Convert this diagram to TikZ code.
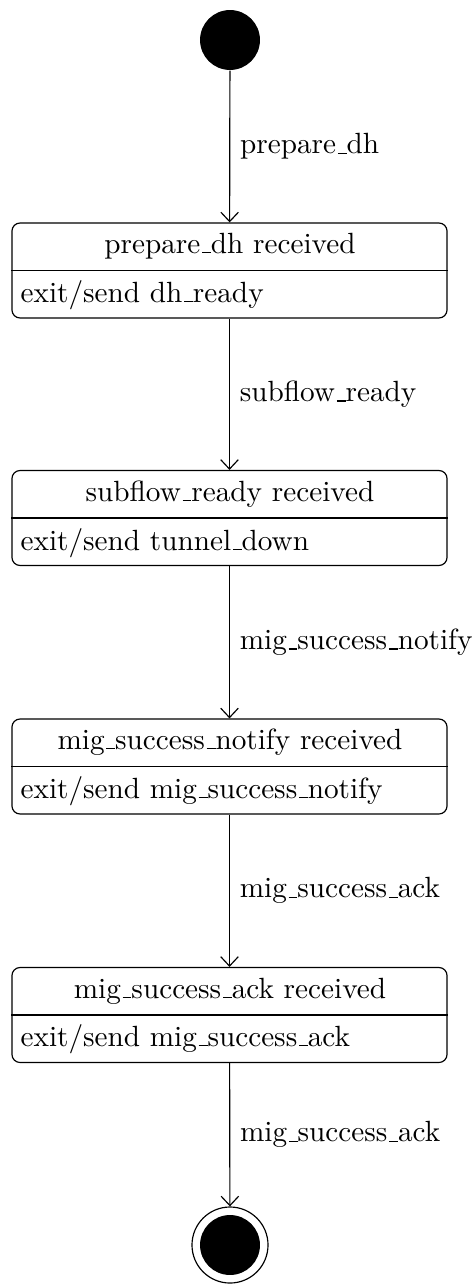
\documentclass[tikz,border=0pt]{standalone}
\usetikzlibrary{arrows.meta}
\newcommand\us{\leavevmode\kern.06em\vbox{\hrule width.3em}}
\begin{document}
\begin{tikzpicture}[x=0.342pt,y=-0.342pt,
  line width=0.4pt,
  statebox/.style={draw, rounded corners=2.8pt, minimum width=148.8pt, minimum height=32.5pt, inner sep=0pt},
  titletext/.style={anchor=center, inner sep=0pt},
  exittext/.style={anchor=west, inner sep=0pt},
  trans/.style={-{Straight Barb[length=3.2pt,width=6pt]}},
  lbl/.style={right, inner sep=3.33pt}]
\useasboundingbox (0,0) rectangle (474,1284);
\node[circle, fill=black, minimum size=20.5pt, inner sep=0pt] (init) at (230,40) {};
% state boxes
\node[statebox] (s1) at (229.5,270.5) {};
\node[statebox] (s2) at (229.5,518) {};
\node[statebox] (s3) at (229.5,766.5) {};
\node[statebox] (s4) at (229.5,1015) {};
\foreach \n in {s1,s2,s3,s4}{\draw (\n.west) -- (\n.east);}
\node[titletext] (t1) at (230,246) {prepare\us dh received};
\node[exittext] (e1) at (20,295) {exit/send dh\us ready};
\node[titletext] (t2) at (230,494) {subflow\us ready received};
\node[exittext] (e2) at (20,543) {exit/send tunnel\us down};
\node[titletext] (t3) at (230,742) {mig\us success\us notify received};
\node[exittext] (e3) at (20,791) {exit/send mig\us success\us notify};
\node[titletext] (t4) at (230,991) {mig\us success\us ack received};
\node[exittext] (e4) at (20,1039) {exit/send mig\us success\us ack};
% final state
\node[circle, draw, minimum size=26pt, inner sep=0pt] (final) at (230,1245) {};
\node[circle, fill=black, minimum size=20.5pt, inner sep=0pt] (finalin) at (230,1245) {};
% transitions
\draw[trans] (init) -- node[lbl] {prepare\us dh} (s1);
\draw[trans] (s1) -- node[lbl] {subflow\us ready} (s2);
\draw[trans] (s2) -- node[lbl] {mig\us success\us notify} (s3);
\draw[trans] (s3) -- node[lbl] {mig\us success\us ack} (s4);
\draw[trans] (s4) -- node[lbl] {mig\us success\us ack} (final);
\end{tikzpicture}
\end{document}
